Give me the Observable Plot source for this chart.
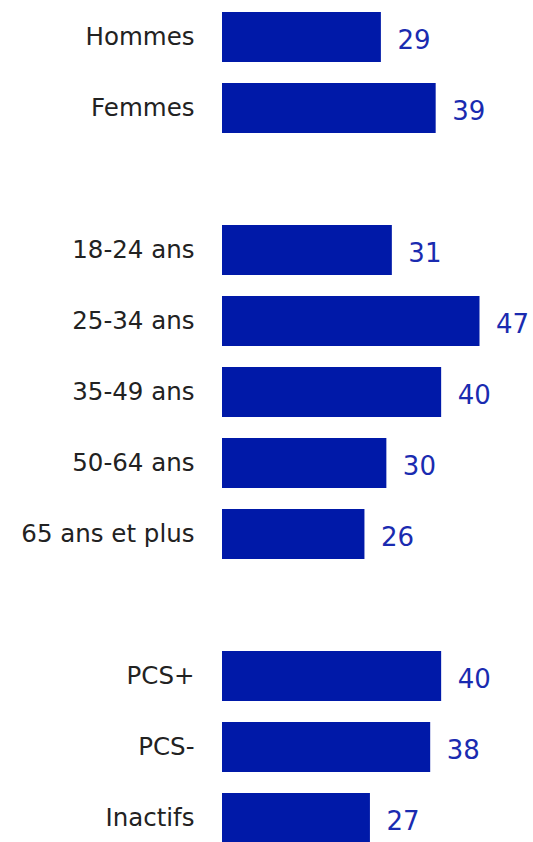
<!DOCTYPE html>
<html>
<head>
<meta charset="utf-8">
<script src="https://cdn.jsdelivr.net/npm/d3@7"></script>
<script src="https://cdn.jsdelivr.net/npm/@observablehq/plot@0.6"></script>
<style>
  html, body { margin: 0; padding: 0; background: #fff; overflow: hidden; }
  #chart svg { display: block; }
</style>
</head>
<body>
<div id="chart"></div>
<script>
const categories = ["Hommes", "Femmes", "18-24 ans", "25-34 ans", "35-49 ans", "50-64 ans", "65 ans et plus", "PCS+", "PCS-", "Inactifs"];
const values = [29, 39, 31, 47, 40, 30, 26, 40, 38, 27];
const groups = ["Sexe", "Sexe", "Âge", "Âge", "Âge", "Âge", "Âge", "PCS", "PCS", "PCS"];

const data = categories.map((c, i) => ({category: c, value: values[i], group: groups[i]}));

// y domain with blank rows between groups
const domain = [];
let prev = null, gap = 0;
for (const d of data) {
  if (prev !== null && d.group !== prev) domain.push("__gap" + (gap++));
  domain.push(d.category);
  prev = d.group;
}

const barColor = "#0019a8";
const valueColor = "#1a2bb0";

const chart = Plot.plot({
  width: 533,
  height: 842,
  marginLeft: 0,
  marginRight: 0,
  marginTop: 0,
  marginBottom: 0,
  style: {fontFamily: "'DejaVu Sans', sans-serif", background: "#fff", overflow: "hidden"},
  x: {range: [222, 479.5], axis: null},
  y: {domain, range: [0.6, 855.6], paddingInner: 0.29, paddingOuter: 0.145, label: null},
  marks: [
    Plot.barX(data, {x: "value", y: "category", fill: barColor}),
    Plot.text(data, {x: "value", y: "category", text: d => String(d.value), dx: 16, dy: 3, textAnchor: "start", fill: valueColor, fontSize: 26}),
    Plot.axisY({tickSize: 0, tickPadding: 28, fontSize: 24.5, tickFormat: d => d.startsWith("__gap") ? "" : d, color: "#222", anchor: "left", x: 0, textAnchor: "end"})
  ]
});
document.getElementById("chart").appendChild(chart);
</script>
</body>
</html>
